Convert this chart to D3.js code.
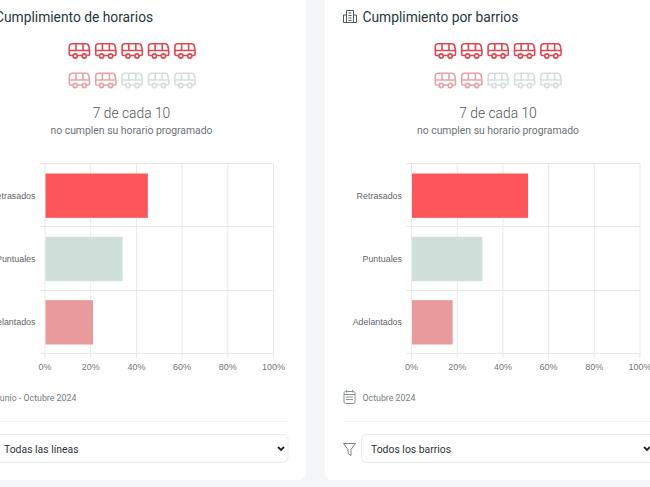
<!DOCTYPE html>
<html>
<head>
<meta charset="utf-8">
<script src="https://cdnjs.cloudflare.com/ajax/libs/d3/7.8.5/d3.min.js"></script>
<style>
html, body { margin: 0; padding: 0; background: #f5f6f8; overflow: hidden; }
text { font-family: Roboto, "Noto Sans", sans-serif; }
</style>
</head>
<body>
<script>
// values
var categories = ["Retrasados", "Puntuales", "Adelantados"];
var horariosValues = [45, 34, 21];
var barriosValues = [51, 31, 18];
var barColors = ["#fd5559", "#cfdfda", "#e89a9c"];
var xTicks = [0, 20, 40, 60, 80, 100];
var busColors = ["#e0474f", "#e0474f", "#e0474f", "#e0474f", "#e0474f",
                 "#e6a3a6", "#e6a3a6", "#d3dfdc", "#d3dfdc", "#d3dfdc"];

var svg = d3.select("body").append("svg")
    .attr("width", 650)
    .attr("height", 487);

// white cards
svg.append("rect").attr("x", -20).attr("y", -20).attr("width", 326).attr("height", 500)
    .attr("rx", 7).attr("fill", "#fff");
svg.append("rect").attr("x", 325).attr("y", -20).attr("width", 345).attr("height", 500)
    .attr("rx", 7).attr("fill", "#fff");

function drawBus(g, x, y, color) {
    var b = g.append("g")
        .attr("transform", "translate(" + x + "," + y + ")")
        .attr("fill", "none")
        .attr("stroke", color)
        .attr("stroke-width", 1.6);
    b.append("path").attr("d", "M4.5 12.5H2Q0.8 12.5 0.8 11V3.5Q0.8 0.8 3.5 0.8H17.5Q19.7 0.8 20.3 3.5L21 7.5V11Q21 12.5 19.8 12.5H18");
    b.append("path").attr("d", "M0.8 7.5H20.8M7.5 0.8V7.5M14.5 0.8V7.5M9 12.5H13.5");
    b.append("circle").attr("cx", 6.7).attr("cy", 13).attr("r", 2.1);
    b.append("circle").attr("cx", 15.7).attr("cy", 13).attr("r", 2.1);
}

function drawCard(opts) {
    var g = svg.append("g");

    g.append("text").attr("x", opts.titleX).attr("y", 22)
        .attr("font-size", 13.8).attr("fill", "#27373d").text(opts.title);

    // bus pictogram, 5 per row
    busColors.forEach(function(c, i) {
        drawBus(g, opts.busX + (i % 5) * 26.4, 43 + Math.floor(i / 5) * 29.5, c);
    });

    g.append("text").attr("x", opts.midX).attr("y", 118).attr("text-anchor", "middle")
        .attr("font-size", 13.8).attr("font-weight", 300).attr("fill", "#4f585c").text("7 de cada 10");
    g.append("text").attr("x", opts.midX).attr("y", 134).attr("text-anchor", "middle")
        .attr("font-size", 10.4).attr("fill", "#6b7378").text("no cumplen su horario programado");

    // chart
    var x = d3.scaleLinear().domain([0, 100]).range([opts.x0, opts.x0 + 228.5]);
    var y = d3.scaleBand().domain(categories).range([164, 354]);

    g.selectAll(".vgrid").data(xTicks).enter().append("line")
        .attr("x1", function(d) { return x(d); })
        .attr("x2", function(d) { return x(d); })
        .attr("y1", 164).attr("y2", 358)
        .attr("stroke", "#e8e8e8");
    g.selectAll(".hgrid").data(d3.range(4)).enter().append("line")
        .attr("x1", opts.x0 - 5).attr("x2", x(100))
        .attr("y1", function(d) { return Math.round(164 + d * y.bandwidth()) - 0.5; })
        .attr("y2", function(d) { return Math.round(164 + d * y.bandwidth()) - 0.5; })
        .attr("stroke", "#e8e8e8");

    var inner = y.bandwidth() * 0.7;
    g.selectAll(".bar").data(opts.values).enter().append("rect")
        .attr("x", x(0) + 0.5)
        .attr("y", function(d, i) { return y(categories[i]) + (y.bandwidth() - inner) / 2; })
        .attr("width", function(d) { return x(d) - x(0) - 0.5; })
        .attr("height", inner)
        .attr("fill", function(d, i) { return barColors[i]; });

    g.selectAll(".cat").data(categories).enter().append("text")
        .attr("x", opts.x0 - 9.5)
        .attr("y", function(d) { return y(d) + y.bandwidth() / 2 + 3; })
        .attr("text-anchor", "end")
        .style("font-family", "'Liberation Sans'")
        .attr("font-size", 8.9)
        .attr("fill", "#666")
        .text(function(d) { return d; });

    g.selectAll(".tick").data(xTicks).enter().append("text")
        .attr("x", function(d) { return x(d); })
        .attr("y", 370)
        .attr("text-anchor", "middle")
        .style("font-family", "'Liberation Sans'")
        .attr("font-size", 9)
        .attr("fill", "#777")
        .text(function(d) { return d + "%"; });

    // period + divider
    g.append("text").attr("x", opts.periodX).attr("y", 401)
        .attr("font-size", 8.8).attr("fill", "#757d80").text(opts.period);
    g.append("line").attr("x1", opts.cardL).attr("x2", opts.cardR)
        .attr("y1", 421.5).attr("y2", 421.5).attr("stroke", "#f1f2f3");

    // dropdown
    g.append("rect").attr("x", opts.selX + 0.5).attr("y", 434.5)
        .attr("width", opts.selW).attr("height", 28).attr("rx", 5)
        .attr("fill", "#fff").attr("stroke", "#e8eaec");
    g.append("text").attr("x", opts.selX + 10).attr("y", 452.5)
        .attr("font-size", 10.4).attr("fill", "#2c3438").text(opts.select);
    g.append("path")
        .attr("d", "M" + (opts.chevX - 3) + " 447l3 3l3 -3")
        .attr("fill", "none").attr("stroke", "#222").attr("stroke-width", 1.8);
    return g;
}

drawCard({
    title: "Cumplimiento de horarios", titleX: -5, busX: 68.5, midX: 131.5,
    values: horariosValues, x0: 45,
    period: "Junio - Octubre 2024", periodX: -5,
    cardL: 0, cardR: 288,
    select: "Todas las líneas", selX: -6, selW: 293.5, chevX: 281
});

var right = drawCard({
    title: "Cumplimiento por barrios", titleX: 362.5, busX: 434.5, midX: 498,
    values: barriosValues, x0: 411.5,
    period: "Octubre 2024", periodX: 362.5,
    cardL: 343, cardR: 660,
    select: "Todos los barrios", selX: 361, selW: 310, chevX: 647
});

// building icon next to the right title
var bld = right.append("g").attr("transform", "translate(343,9)")
    .attr("fill", "none").attr("stroke", "#4d5a5e").attr("stroke-width", 1);
bld.append("path").attr("d", "M3.5 13V1.5H10.5V13M0.5 13.5V6H3.5M10.5 6H13.5V13.5M0.5 13.5H13.5");
bld.append("path").attr("d", "M5.5 4H8.5M5.5 6.5H8.5M5.5 9H8.5M5.5 11.5H8.5");

// calendar icon
var cal = right.append("g").attr("transform", "translate(343.5,390)")
    .attr("fill", "none").attr("stroke", "#8a9295").attr("stroke-width", 1);
cal.append("rect").attr("x", 0.5).attr("y", 1.5).attr("width", 11).attr("height", 12).attr("rx", 1.5);
cal.append("path").attr("d", "M0.5 4.5H11.5M3 0V2.5M9 0V2.5M2.5 7H9.5M2.5 9.5H9.5");

// filter icon
right.append("path").attr("d", "M343.5 443.5H355.5L351 449.5V455.5L348 453.5V449.5Z")
    .attr("fill", "none").attr("stroke", "#7d8689").attr("stroke-width", 1);
</script>
</body>
</html>
